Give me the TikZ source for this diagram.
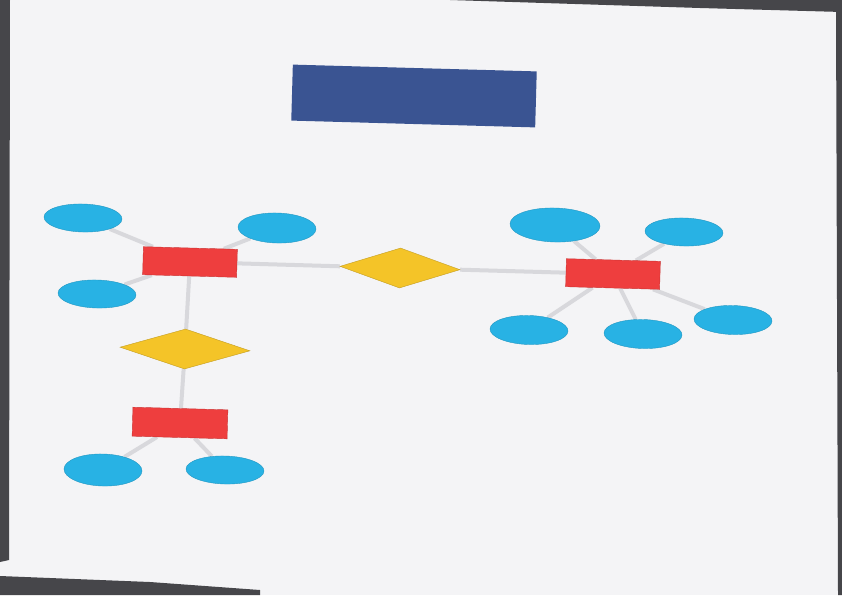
\documentclass[tikz,border=0pt]{standalone}
\usetikzlibrary{shapes.geometric,backgrounds}
\definecolor{bg}{RGB}{244,244,246}
\definecolor{titleblue}{RGB}{58,84,146}
\definecolor{entred}{RGB}{238,62,62}
\definecolor{attrblue}{RGB}{40,178,228}
\definecolor{relgold}{RGB}{244,196,40}
\definecolor{linegray}{RGB}{216,216,220}
\definecolor{edgedark}{RGB}{70,70,74}
\tikzset{
  base/.style={rotate=-1.6, inner sep=0pt},
  entity/.style={base, rectangle, fill=entred, draw=entred!85!black, line width=0.4pt, minimum width=94pt, minimum height=28pt},
  attr/.style={base, ellipse, fill=attrblue, draw=attrblue!85!black, line width=0.4pt, minimum width=78pt, minimum height=29pt},
  rel/.style={base, diamond, aspect=3, fill=relgold, draw=relgold!80!black, line width=0.4pt, minimum width=120pt, minimum height=40pt},
  titlebox/.style={base, rectangle, fill=titleblue, minimum width=244pt, minimum height=56pt},
  conn/.style={draw=linegray, line width=4pt}
}
\begin{document}
\begin{tikzpicture}[x=1pt,y=-1pt]
\useasboundingbox (0,0) rectangle (842,595);

\node[titlebox] (title) at (414,96) {};

\node[entity] (e1) at (190,262) {};
\node[entity] (e2) at (613,274) {};
\node[entity, minimum width=95pt, minimum height=29pt] (e3) at (180,423) {};

\node[rel] (r1) at (400,268) {};
\node[rel, minimum width=130pt] (r2) at (185,349) {};

\node[attr, minimum height=28pt] (a1) at (83,218) {};
\node[attr, minimum height=30pt] (a2) at (277,228) {};
\node[attr, minimum height=28pt] (a3) at (97,294) {};

\node[attr, minimum width=90pt, minimum height=34pt] (a4) at (555,225) {};
\node[attr, minimum height=28pt] (a5) at (684,232) {};
\node[attr] (a6) at (529,330) {};
\node[attr] (a7) at (643,334) {};
\node[attr] (a8) at (733,320) {};

\node[attr, minimum height=32pt] (a9) at (103,470) {};
\node[attr, minimum height=28pt] (a10) at (225,470) {};

\begin{pgfonlayer}{background}
\fill[bg] (0,0) rectangle (842,595);
% photo edge shadows
\fill[edgedark] (0,0) -- (10,0) -- (9,560) -- (0,562) -- cycle;
\fill[edgedark] (450,0) -- (842,0) -- (842,12) -- (700,8) -- cycle;
\fill[edgedark] (836,12) -- (842,12) -- (842,595) -- (838,595) -- cycle;
\fill[edgedark] (0,576) -- (150,582) -- (260,590) -- (260,595) -- (0,595) -- cycle;
% connectors
\draw[conn] (e1) -- (r1);
\draw[conn] (r1) -- (e2);
\draw[conn] (e1) -- (r2);
\draw[conn] (r2) -- (e3);
\draw[conn] (e1) -- (a1);
\draw[conn] (e1) -- (a2);
\draw[conn] (e1) -- (a3);
\draw[conn] (e2) -- (a4);
\draw[conn] (e2) -- (a5);
\draw[conn] (e2) -- (a6);
\draw[conn] (e2) -- (a7);
\draw[conn] (e2) -- (a8);
\draw[conn] (e3) -- (a9);
\draw[conn] (e3) -- (a10);
\end{pgfonlayer}
\end{tikzpicture}
\end{document}
